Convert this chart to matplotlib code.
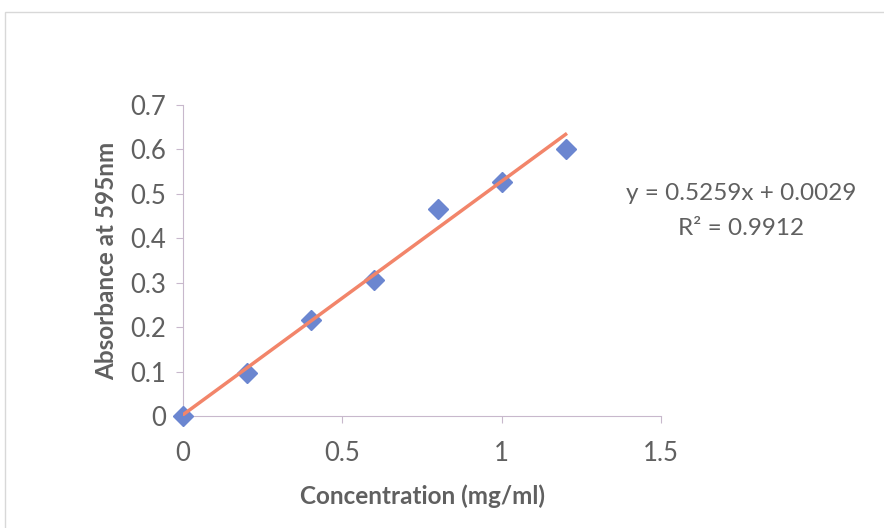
import matplotlib.pyplot as plt
from matplotlib.patches import Rectangle

conc = [0, 0.2, 0.4, 0.6, 0.8, 1.0, 1.2]
absorb = [0.0, 0.098, 0.216, 0.306, 0.465, 0.526, 0.602]
slope = 0.5259
intercept = 0.0029
r2 = 0.9912

plt.rcParams['font.family'] = ['Lato', 'DejaVu Sans']

fig = plt.figure(figsize=(8.84, 5.28), dpi=100)
fig.patches.append(Rectangle((0.006, -0.01), 1.0, 0.988, transform=fig.transFigure,
                             fill=False, edgecolor='#d8d8d8', lw=1))
ax = fig.add_axes([0.207, 0.212, 0.541, 0.589])

fit_x = [conc[0], conc[-1]]
fit_y = [slope * v + intercept for v in fit_x]
ax.plot(conc, absorb, 'D', color='#6b86d0', markersize=10, zorder=3, clip_on=False)
ax.plot(fit_x, fit_y, '-', color='#f2856a', lw=2.5, zorder=4)

ax.set_xlim(0, 1.5)
ax.set_ylim(0, 0.7)
ax.set_xticks([0, 0.5, 1, 1.5])
ax.set_xticklabels(['0', '0.5', '1', '1.5'])
ax.set_yticks([0, 0.1, 0.2, 0.3, 0.4, 0.5, 0.6, 0.7])
ax.set_yticklabels(['0', '0.1', '0.2', '0.3', '0.4', '0.5', '0.6', '0.7'])
for s in ['top', 'right']:
    ax.spines[s].set_visible(False)
for s in ['left', 'bottom']:
    ax.spines[s].set_color('#c8b8cc')
ax.tick_params(colors='#c8b8cc', labelcolor='#606060', labelsize=18.5, length=5)
ax.tick_params(axis='x', pad=13)
ax.tick_params(axis='y', pad=7)

ax.set_xlabel('Concentration (mg/ml)', fontsize=17.5, fontweight='bold', color='#606060', labelpad=13)
ax.set_ylabel('Absorbance at 595nm', fontsize=17.5, fontweight='bold', color='#606060', labelpad=9)

fig.text(0.838, 0.633, 'y = %.4fx + %.4f' % (slope, intercept), ha='center', va='center',
         fontsize=17.5, color='#606060')
fig.text(0.838, 0.568, 'R² = %.4f' % r2, ha='center', va='center',
         fontsize=17.5, color='#606060')

fig.savefig('out.png', dpi=100)
